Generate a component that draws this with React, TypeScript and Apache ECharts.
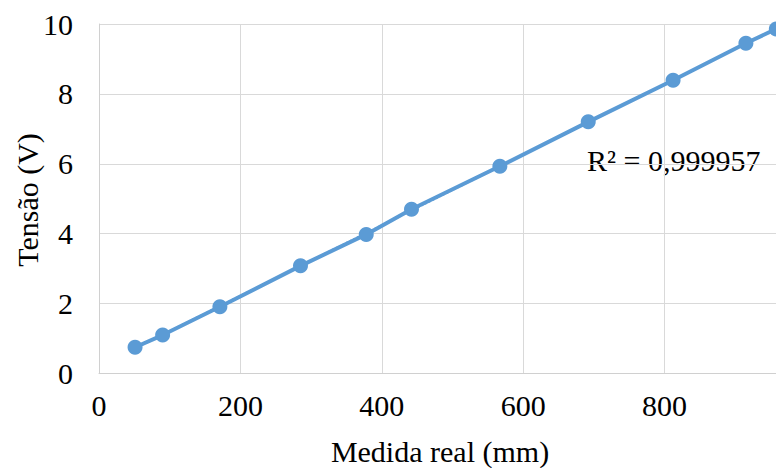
import React, { useEffect, useRef } from "react";
import * as echarts from "echarts";

// Measured length (mm) vs. sensor voltage (V)
const medidaReal = [51, 90, 171, 285, 378, 442, 567, 692, 812, 915, 958];
const tensao = [0.75, 1.1, 1.91, 3.08, 3.98, 4.7, 5.93, 7.2, 8.39, 9.45, 9.86];
const r2Label = "R² = 0,999957";

const FONT = "Liberation Serif, Times New Roman, serif";
const BLUE = "#5B9BD5";

// Least-squares linear trendline over the measured points
function trendline(xs: number[], ys: number[]): number[][] {
  const n = xs.length;
  const mx = xs.reduce((a, b) => a + b, 0) / n;
  const my = ys.reduce((a, b) => a + b, 0) / n;
  let sxy = 0;
  let sxx = 0;
  for (let i = 0; i < n; i++) {
    sxy += (xs[i] - mx) * (ys[i] - my);
    sxx += (xs[i] - mx) * (xs[i] - mx);
  }
  const b = sxy / sxx;
  const a = my - b * mx;
  const x0 = Math.min(...xs);
  const x1 = Math.max(...xs);
  return [
    [x0, a + b * x0],
    [x1, a + b * x1],
  ];
}

export default function App() {
  const ref = useRef<HTMLDivElement>(null);

  useEffect(() => {
    if (!ref.current) return;
    const chart = echarts.init(ref.current, undefined, { renderer: "svg" });
    const points = medidaReal.map((x, i) => [x, tensao[i]]);

    chart.setOption({
      animation: false,
      backgroundColor: "#ffffff",
      grid: {
        left: 99,
        right: -30,
        top: 24,
        bottom: 94.5,
        containLabel: false,
        outerBoundsMode: "none",
      },
      xAxis: {
        type: "value",
        min: 0,
        max: 1000,
        interval: 200,
        axisLine: { show: true, lineStyle: { color: "#D0D0D0", width: 1 } },
        axisTick: { show: false },
        splitLine: { show: true, lineStyle: { color: "#D9D9D9", width: 1 } },
        axisLabel: {
          margin: 17,
          color: "#000",
          fontFamily: FONT,
          fontSize: 30,
          showMaxLabel: false,
          formatter: (v: number) => String(v),
        },
      },
      yAxis: {
        type: "value",
        min: 0,
        max: 10,
        interval: 2,
        axisLine: { show: true, lineStyle: { color: "#D0D0D0", width: 1 } },
        axisTick: { show: false },
        splitLine: { show: true, lineStyle: { color: "#D9D9D9", width: 1 } },
        axisLabel: {
          margin: 26,
          color: "#000",
          fontFamily: FONT,
          fontSize: 30,
        },
      },
      series: [
        {
          type: "line",
          data: trendline(medidaReal, tensao),
          showSymbol: false,
          lineStyle: { color: BLUE, width: 2, type: "dotted" },
          z: 1,
        },
        {
          type: "line",
          data: points,
          symbol: "circle",
          symbolSize: 15,
          itemStyle: { color: BLUE },
          lineStyle: { color: BLUE, width: 4 },
          z: 2,
        },
      ],
      graphic: [
        {
          type: "text",
          x: 587,
          y: 160,
          style: {
            text: r2Label,
            fontFamily: FONT,
            fontSize: 30,
            fill: "#000",
            textAlign: "left",
            textVerticalAlign: "middle",
          },
        },
        {
          type: "text",
          x: 440,
          y: 451,
          style: {
            text: "Medida real (mm)",
            fontFamily: FONT,
            fontSize: 30,
            fill: "#000",
            textAlign: "center",
            textVerticalAlign: "middle",
          },
        },
        {
          type: "text",
          x: 27,
          y: 200,
          rotation: Math.PI / 2,
          style: {
            text: "Tensão (V)",
            fontFamily: FONT,
            fontSize: 30,
            fill: "#000",
            textAlign: "center",
            textVerticalAlign: "middle",
          },
        },
      ],
    });

    return () => chart.dispose();
  }, []);

  return (
    <div
      ref={ref}
      style={{ position: "fixed", left: 0, top: 0, width: 776, height: 468 }}
    />
  );
}
